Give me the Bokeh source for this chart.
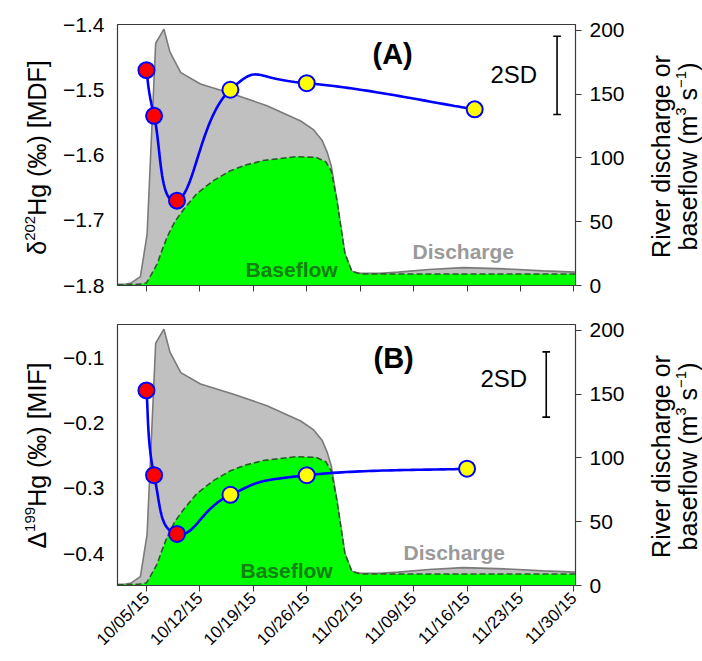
import math
import numpy as np
import pandas as pd
from bokeh.plotting import figure
from bokeh.layouts import column, row
from bokeh.models import Range1d, LinearAxis, FixedTicker, Label
from bokeh.embed import file_html
from bokeh.resources import INLINE

# ---------------- data ----------------
tick_dates = ["2015-10-05", "2015-10-12", "2015-10-19", "2015-10-26", "2015-11-02",
              "2015-11-09", "2015-11-16", "2015-11-23", "2015-11-30"]
tick_labels = ["10/05/15", "10/12/15", "10/19/15", "10/26/15", "11/02/15",
               "11/09/15", "11/16/15", "11/23/15", "11/30/15"]

sample_dates_a = ["2015-10-05", "2015-10-06", "2015-10-09", "2015-10-16", "2015-10-26", "2015-11-17"]
sample_dates_b = ["2015-10-05", "2015-10-06", "2015-10-09", "2015-10-16", "2015-10-26", "2015-11-16"]
sample_type = ["storm", "storm", "storm", "base", "base", "base"]
d202_hg = [-1.47, -1.54, -1.67, -1.50, -1.49, -1.53]
D199_hg = [-0.15, -0.28, -0.37, -0.31, -0.28, -0.27]

discharge_times = ["2015-10-01 05:00", "2015-10-02 05:00", "2015-10-03 00:00", "2015-10-04 05:00",
                   "2015-10-05 02:00", "2015-10-06 05:00", "2015-10-07 07:00", "2015-10-08 02:00",
                   "2015-10-09 12:00", "2015-10-12 02:00", "2015-10-16 10:00", "2015-10-20 19:00",
                   "2015-10-25 05:00", "2015-10-26 22:00", "2015-10-28 00:00", "2015-10-28 17:00",
                   "2015-10-29 05:00", "2015-10-29 22:00", "2015-10-31 00:00", "2015-10-31 22:00",
                   "2015-11-02 00:00", "2015-11-04 12:00", "2015-11-07 00:00", "2015-11-11 00:00",
                   "2015-11-15 12:00", "2015-11-21 00:00", "2015-11-26 00:00", "2015-11-30 05:00"]
discharge = [1, 1, 2, 7, 40, 190, 201, 183, 167, 158, 150, 141, 129, 122, 114, 104,
             94, 68, 25, 11, 9.5, 9.5, 10.5, 12.5, 14, 13, 11.5, 10.5]

baseflow_times = ["2015-10-01 05:00", "2015-10-04 00:00", "2015-10-05 00:00", "2015-10-05 14:00",
                  "2015-10-06 10:00", "2015-10-07 00:00", "2015-10-07 17:00", "2015-10-08 17:00",
                  "2015-10-09 22:00", "2015-10-11 14:00", "2015-10-13 17:00", "2015-10-16 00:00",
                  "2015-10-18 00:00", "2015-10-20 07:00", "2015-10-24 14:00", "2015-10-27 05:00",
                  "2015-10-28 12:00", "2015-10-29 05:00", "2015-10-29 22:00", "2015-10-31 00:00",
                  "2015-10-31 22:00", "2015-11-02 00:00", "2015-11-30 05:00"]
baseflow = [0.5, 1, 2, 8, 17, 27, 38, 50, 60, 72, 82, 90, 94.5, 98, 101, 100.5,
            97, 90, 68, 25, 11, 9, 9]

flow_ticks = [0, 50, 100, 150, 200]
ticks_a = [-1.8, -1.7, -1.6, -1.5, -1.4]
labels_a = ["\u22121.8", "\u22121.7", "\u22121.6", "\u22121.5", "\u22121.4"]
ticks_b = [-0.4, -0.3, -0.2, -0.1]
labels_b = ["\u22120.4", "\u22120.3", "\u22120.2", "\u22120.1"]
two_sd_a = 0.12
two_sd_b = 0.10

# axis titles as (text, is_superscript) pieces
title_a = [("\u03b4", False), ("202", True), ("Hg (\u2030) [MDF]", False)]
title_b = [("\u0394", False), ("199", True), ("Hg (\u2030) [MIF]", False)]
flow_title_1 = [("River discharge or", False)]
flow_title_2 = [("baseflow (m", False), ("3", True), ("\u00a0s", False), ("\u22121", True), (")", False)]

# ---------------- helpers ----------------
def to_ms(lst):
    idx = pd.to_datetime(lst)
    return ((idx - pd.Timestamp("1970-01-01")) // pd.Timedelta(milliseconds=1)).to_numpy().astype(float)

X_START = to_ms(["2015-10-01 05:00"])[0]
X_END = to_ms(["2015-11-30 05:00"])[0]
FW, FH = 458, 261
LS = 54                      # left title strip width
LB = 117 - LS                # left border of main panels
RB = 70                      # right border of main panels
RS = 702 - 117 - FW - RB     # right title strip width
FONT = "Liberation Sans"
AXC = "#3a3a3a"

# Arial / Liberation Sans advance widths (per em)
ADV = {"b": .556, "a": .556, "s": .5, "e": .556, "f": .278, "l": .222, "o": .556, "w": .722,
       " ": .278, "\u00a0": .278, "(": .333, ")": .333, "m": .833, "3": .556, "\u2212": .584, "1": .556,
       "\u03b4": .556, "\u0394": .668, "2": .556, "0": .556, "9": .556, "H": .722, "g": .556,
       "\u2030": 1.0, "[": .278, "]": .278, "M": .833, "D": .722, "F": .611, "I": .278,
       "R": .722, "i": .222, "v": .5, "r": .333, "d": .556, "c": .5, "h": .556}


def text_len(txt, size):
    return sum(ADV.get(ch, .556) for ch in txt) * size


def catmull(xs, ys, sx, sy, k=0.23, n=40):
    P = np.column_stack([np.asarray(xs) * sx, np.asarray(ys) * sy])
    Pe = np.vstack([P[0], P, P[-1]])
    out = []
    t = np.linspace(0, 1, n)[:, None]
    for i in range(1, len(Pe) - 2):
        p0, p3 = Pe[i], Pe[i + 1]
        c1 = p0 + k * (Pe[i + 1] - Pe[i - 1])
        c2 = p3 - k * (Pe[i + 2] - Pe[i])
        seg = (1 - t) ** 3 * p0 + 3 * (1 - t) ** 2 * t * c1 + 3 * (1 - t) * t ** 2 * c2 + t ** 3 * p3
        out.append(seg if i == 1 else seg[1:])
    out = np.vstack(out)
    return out[:, 0] / sx, out[:, 1] / sy


def vertical_title(fig, pieces, baseline_x, y_center, size=25, sup_size=15, sup_raise=10):
    """Rotated (bottom-to-top) title with raised, smaller superscripts."""
    lens = [text_len(t, sup_size if s else size) for t, s in pieces]
    y = y_center - sum(lens) / 2
    for (t, s), L in zip(pieces, lens):
        fs = sup_size if s else size
        cx = baseline_x - (sup_raise if s else 0) - 0.36 * fs
        fig.add_layout(Label(x=cx, y=y, x_units="screen", y_units="screen",
                             text=t, text_font=FONT, text_font_size=f"{fs}px",
                             text_color="black", angle=math.pi / 2, text_align="left",
                             text_baseline="middle"))
        y += L


def strip(width, top_border, bottom_border):
    s = figure(frame_width=width, frame_height=FH, x_range=Range1d(0, width), y_range=Range1d(0, FH),
               output_backend="svg", toolbar_location=None,
               min_border_left=0, min_border_right=0,
               min_border_top=top_border, min_border_bottom=bottom_border,
               background_fill_color="white", border_fill_color="white")
    s.axis.visible = False
    s.grid.visible = False
    s.outline_line_color = None
    return s


def panel(yr, yticks, ylabels, dates, vals, tag, sd, sd_date, sd_center,
          sd_lab_xy, tag_xy, base_xy, dis_xy, top_border, bottom_border, show_x):
    p = figure(frame_width=FW, frame_height=FH, x_axis_type="datetime",
               x_range=Range1d(X_START, X_END), y_range=Range1d(*yr),
               output_backend="svg", toolbar_location=None,
               min_border_left=LB, min_border_right=RB,
               min_border_top=top_border, min_border_bottom=bottom_border,
               background_fill_color="white", border_fill_color="white")
    p.grid.visible = False
    p.outline_line_color = AXC
    p.outline_line_width = 1.2
    p.extra_y_ranges = {"q": Range1d(0, 204.7)}

    # x axis
    tms = to_ms(tick_dates)
    xa = p.xaxis[0]
    xa.ticker = FixedTicker(ticks=list(tms))
    xa.minor_tick_line_color = None
    xa.major_tick_out = 6
    xa.major_tick_in = 0
    xa.axis_line_color = AXC
    xa.major_tick_line_color = AXC
    if show_x:
        xa.major_label_overrides = {float(t): l for t, l in zip(tms, tick_labels)}
        xa.major_label_orientation = math.pi / 4
        xa.major_label_text_font_size = "17px"
        xa.major_label_text_font = FONT
        xa.major_label_text_color = "black"
        xa.major_label_standoff = 4
    else:
        xa.major_label_overrides = {float(t): "" for t in tms}
        xa.major_label_text_font_size = "0px"
        xa.major_label_standoff = 0

    # left axis
    ya = p.yaxis[0]
    ya.ticker = FixedTicker(ticks=yticks)
    ya.major_label_overrides = {t: l for t, l in zip(yticks, ylabels)}
    ya.major_tick_out = 0
    ya.major_tick_in = 0
    ya.minor_tick_line_color = None
    ya.major_label_standoff = 13
    ya.major_label_text_font_size = "21px"
    ya.major_label_text_font = FONT
    ya.major_label_text_color = "black"
    ya.axis_line_color = AXC

    # right axis
    ra = LinearAxis(y_range_name="q", ticker=FixedTicker(ticks=flow_ticks))
    ra.major_tick_out = 6
    ra.major_tick_in = 0
    ra.minor_tick_line_color = None
    ra.major_label_standoff = 8
    ra.major_label_text_font_size = "21px"
    ra.major_label_text_font = FONT
    ra.major_label_text_color = "black"
    ra.axis_line_color = AXC
    ra.major_tick_line_color = AXC
    p.add_layout(ra, "right")

    # hydrograph
    qx = to_ms(discharge_times)
    bx = to_ms(baseflow_times)
    p.varea(x=qx, y1=np.zeros(len(qx)), y2=discharge, y_range_name="q", fill_color="#c0c0c0")
    p.line(qx, discharge, y_range_name="q", line_color="#7a7a7a", line_width=1.6)
    p.varea(x=bx, y1=np.zeros(len(bx)), y2=baseflow, y_range_name="q", fill_color="#00ff00")
    p.line(bx, baseflow, y_range_name="q", line_color="#2a5a2a", line_width=1.6, line_dash="6 3")

    # isotope series
    sx = FW / (X_END - X_START)
    sy = FH / (yr[1] - yr[0])
    xs = to_ms(dates)
    cx, cy = catmull(xs, vals, sx, sy)
    p.line(cx, cy, line_color="#0000ff", line_width=2.6)
    colors = ["#ff0000" if s == "storm" else "#ffff00" for s in sample_type]
    p.scatter(xs, vals, size=16, fill_color=colors, line_color="#0000ff", line_width=2)

    # 2SD bar
    sdx = to_ms([sd_date])[0]
    half_cap = 0.5 * 86400000
    lo, hi = sd_center - sd / 2, sd_center + sd / 2
    p.segment(x0=[sdx, sdx - half_cap, sdx - half_cap], y0=[lo, lo, hi],
              x1=[sdx, sdx + half_cap, sdx + half_cap], y1=[hi, lo, hi],
              line_color="black", line_width=1.6)

    def lab(txt, xy, size, color="black", style="normal"):
        p.add_layout(Label(x=xy[0], y=xy[1], x_units="screen", y_units="screen", text=txt,
                           text_font=FONT, text_font_size=size, text_color=color,
                           text_font_style=style, text_baseline="middle"))

    lab("2SD", sd_lab_xy, "24px")
    lab(tag, tag_xy, "29px", style="bold")
    lab("Baseflow", base_xy, "21px", color="#128012", style="bold")
    lab("Discharge", dis_xy, "21px", color="#9a9a9a", style="bold")
    return p


pa = panel((-1.8, -1.4), ticks_a, labels_a, sample_dates_a, d202_hg, "(A)", two_sd_a,
           "2015-11-27 19:00", -1.478, (373, 211), (255, 232), (128, 16), (295, 34), 24, 20, False)
pb = panel((-0.449, -0.049), ticks_b, labels_b, sample_dates_b, D199_hg, "(B)", two_sd_b,
           "2015-11-26 09:00", -0.141, (363, 207), (256, 228), (123, 15), (286, 33), 19, 76, True)

la = strip(LS, 24, 20)
vertical_title(la, title_a, 45, 128)
lb = strip(LS, 19, 76)
vertical_title(lb, title_b, 45, 130)

ra_ = strip(RS, 24, 20)
vertical_title(ra_, flow_title_1, 24, 129)
vertical_title(ra_, flow_title_2, 51, 129)
rb_ = strip(RS, 19, 76)
vertical_title(rb_, flow_title_1, 24, 129)
vertical_title(rb_, flow_title_2, 51, 129)

layout = row(column(la, lb, spacing=0), column(pa, pb, spacing=0), column(ra_, rb_, spacing=0), spacing=0)
open("out.html", "w").write(file_html(layout, INLINE))
